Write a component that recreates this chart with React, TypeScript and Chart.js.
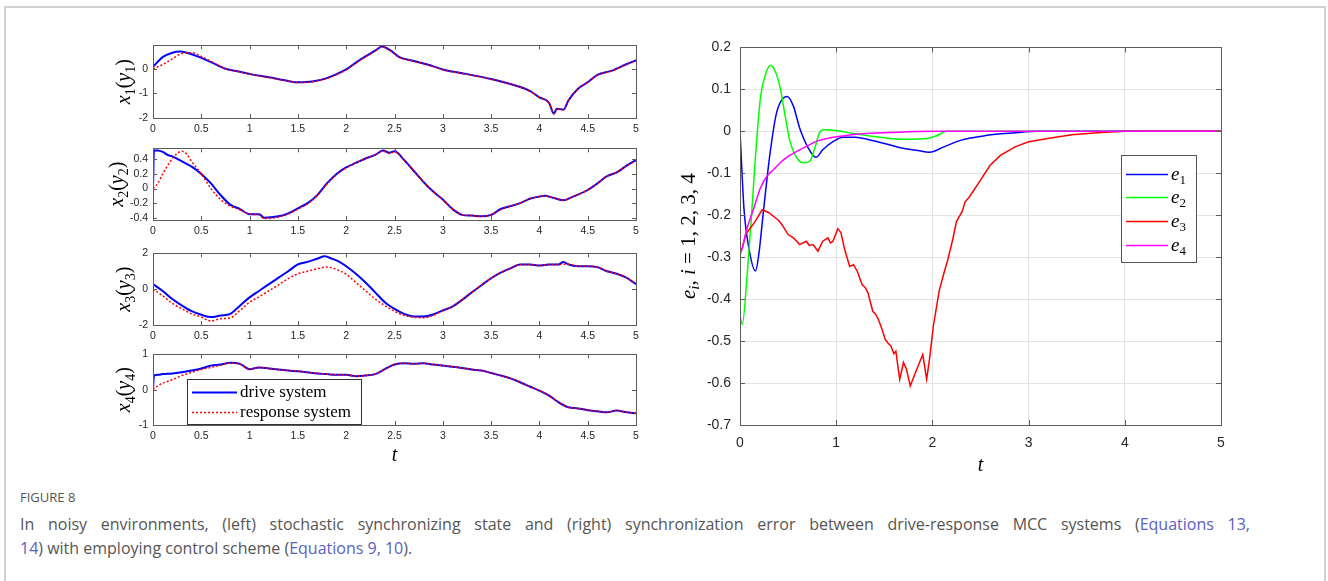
import React, { useEffect, useRef } from 'react';
import { Chart, registerables } from 'chart.js';
Chart.register(...registerables);

// ---------------- data ----------------
const T_TICKS_LEFT = [0, 0.5, 1, 1.5, 2, 2.5, 3, 3.5, 4, 4.5, 5];
const Y1_TICKS = [-2, -1, 0];
const Y2_TICKS = [-0.4, -0.2, 0, 0.2, 0.4];
const Y3_TICKS = [-2, 0, 2];
const Y4_TICKS = [-1, 0, 1];
const T_TICKS_RIGHT = [0, 1, 2, 3, 4, 5];
const E_TICKS = [-0.7, -0.6, -0.5, -0.4, -0.3, -0.2, -0.1, 0, 0.1, 0.2];

const LEFT_LEGEND = ['drive system', 'response system'];
const RIGHT_LEGEND_SUBS = ['1', '2', '3', '4'];

// x1 (drive) / y1 (response)
const X1_T = [0, 0.1, 0.2, 0.28, 0.35, 0.5, 0.6, 0.75, 0.9, 1.0, 1.2, 1.4, 1.5, 1.65, 1.8, 1.9, 2.0, 2.1, 2.2, 2.3, 2.37, 2.45, 2.55, 2.7, 2.85, 3.0, 3.25, 3.5, 3.75, 3.9, 4.0, 4.1, 4.15, 4.18, 4.25, 4.3, 4.4, 4.5, 4.6, 4.75, 4.9, 5.0];
const X1 = [0.08, 0.47, 0.65, 0.7, 0.65, 0.44, 0.27, 0.0, -0.12, -0.21, -0.35, -0.5, -0.55, -0.52, -0.38, -0.22, -0.03, 0.25, 0.5, 0.73, 0.9, 0.76, 0.47, 0.31, 0.16, -0.03, -0.22, -0.42, -0.68, -0.9, -1.16, -1.38, -1.83, -1.62, -1.66, -1.29, -0.81, -0.55, -0.25, -0.08, 0.18, 0.34];
const Y1_T = [0, 0.1, 0.2, 0.3, 0.4, 0.5, 0.6, 0.75, 0.9, 1.0, 1.2, 1.4, 1.5, 1.65, 1.8, 1.9, 2.0, 2.1, 2.2, 2.3, 2.37, 2.45, 2.55, 2.7, 2.85, 3.0, 3.25, 3.5, 3.75, 3.9, 4.0, 4.1, 4.15, 4.18, 4.25, 4.3, 4.4, 4.5, 4.6, 4.75, 4.9, 5.0];
const Y1 = [0.0, 0.17, 0.4, 0.62, 0.65, 0.5, 0.3, 0.0, -0.13, -0.22, -0.36, -0.5, -0.56, -0.53, -0.4, -0.24, -0.05, 0.23, 0.48, 0.71, 0.88, 0.75, 0.46, 0.3, 0.15, -0.04, -0.23, -0.43, -0.69, -0.91, -1.17, -1.39, -1.82, -1.63, -1.67, -1.3, -0.82, -0.56, -0.26, -0.09, 0.17, 0.33];

// x2 / y2
const X2_T = [0, 0.01, 0.05, 0.1, 0.15, 0.2, 0.3, 0.4, 0.5, 0.6, 0.7, 0.8, 0.9, 1.0, 1.1, 1.15, 1.3, 1.4, 1.5, 1.6, 1.7, 1.8, 1.9, 2.0, 2.1, 2.2, 2.3, 2.38, 2.45, 2.5, 2.6, 2.7, 2.8, 2.9, 3.0, 3.1, 3.2, 3.3, 3.4, 3.5, 3.6, 3.7, 3.8, 3.9, 4.0, 4.05, 4.15, 4.25, 4.35, 4.5, 4.6, 4.7, 4.8, 4.9, 5.0];
const X2 = [0, 0.52, 0.52, 0.5, 0.46, 0.44, 0.37, 0.3, 0.2, 0.07, -0.09, -0.22, -0.28, -0.35, -0.35, -0.4, -0.38, -0.34, -0.27, -0.2, -0.09, 0.07, 0.2, 0.29, 0.35, 0.41, 0.46, 0.52, 0.49, 0.51, 0.39, 0.24, 0.09, -0.04, -0.15, -0.28, -0.36, -0.37, -0.38, -0.36, -0.28, -0.24, -0.2, -0.14, -0.11, -0.1, -0.13, -0.16, -0.11, -0.02, 0.07, 0.17, 0.22, 0.31, 0.39];
const Y2_T = [0, 0.05, 0.1, 0.15, 0.2, 0.25, 0.3, 0.35, 0.4, 0.5, 0.6, 0.7, 0.8, 0.9, 1.0, 1.1, 1.15, 1.3, 1.4, 1.5, 1.6, 1.7, 1.8, 1.9, 2.0, 2.1, 2.2, 2.3, 2.38, 2.45, 2.5, 2.6, 2.7, 2.8, 2.9, 3.0, 3.1, 3.2, 3.3, 3.4, 3.5, 3.6, 3.7, 3.8, 3.9, 4.0, 4.05, 4.15, 4.25, 4.35, 4.5, 4.6, 4.7, 4.8, 4.9, 5.0];
const Y2 = [0, 0.07, 0.2, 0.31, 0.41, 0.48, 0.51, 0.47, 0.37, 0.2, 0.0, -0.15, -0.24, -0.29, -0.35, -0.36, -0.41, -0.39, -0.35, -0.28, -0.21, -0.1, 0.06, 0.19, 0.28, 0.35, 0.41, 0.46, 0.51, 0.48, 0.5, 0.39, 0.24, 0.09, -0.04, -0.15, -0.28, -0.36, -0.37, -0.38, -0.36, -0.29, -0.24, -0.2, -0.14, -0.11, -0.1, -0.13, -0.16, -0.11, -0.02, 0.07, 0.17, 0.22, 0.31, 0.38];

// x3 / y3
const X3_T = [0, 0.1, 0.2, 0.3, 0.4, 0.5, 0.6, 0.7, 0.8, 0.9, 1.0, 1.1, 1.2, 1.3, 1.4, 1.5, 1.6, 1.7, 1.78, 1.85, 1.9, 2.0, 2.1, 2.2, 2.3, 2.4, 2.5, 2.6, 2.7, 2.8, 2.9, 3.0, 3.1, 3.2, 3.3, 3.4, 3.5, 3.6, 3.7, 3.8, 3.9, 4.0, 4.1, 4.2, 4.25, 4.3, 4.4, 4.5, 4.6, 4.7, 4.8, 4.9, 5.0];
const X3 = [0.28, -0.1, -0.55, -0.92, -1.23, -1.43, -1.56, -1.47, -1.38, -0.92, -0.46, -0.09, 0.28, 0.64, 1.0, 1.38, 1.52, 1.7, 1.83, 1.7, 1.6, 1.28, 0.86, 0.37, -0.18, -0.73, -1.1, -1.38, -1.52, -1.52, -1.41, -1.19, -0.97, -0.6, -0.18, 0.22, 0.61, 0.92, 1.16, 1.38, 1.38, 1.32, 1.38, 1.38, 1.52, 1.38, 1.28, 1.28, 1.23, 1.0, 0.86, 0.64, 0.28];
const Y3_T = [0, 0.1, 0.2, 0.3, 0.4, 0.5, 0.6, 0.7, 0.8, 0.9, 1.0, 1.1, 1.2, 1.3, 1.4, 1.5, 1.6, 1.7, 1.8, 1.9, 2.0, 2.1, 2.2, 2.3, 2.4, 2.5, 2.6, 2.7, 2.8, 2.9, 3.0, 3.1, 3.2, 3.3, 3.4, 3.5, 3.6, 3.7, 3.8, 3.9, 4.0, 4.1, 4.2, 4.3, 4.4, 4.5, 4.6, 4.7, 4.8, 4.9, 5.0];
const Y3 = [0.0, -0.37, -0.79, -1.1, -1.38, -1.56, -1.78, -1.65, -1.6, -1.19, -0.73, -0.42, -0.09, 0.24, 0.59, 0.86, 1.0, 1.14, 1.23, 1.1, 0.83, 0.37, -0.09, -0.55, -0.92, -1.23, -1.47, -1.56, -1.6, -1.47, -1.2, -0.97, -0.6, -0.18, 0.22, 0.61, 0.92, 1.16, 1.38, 1.38, 1.32, 1.38, 1.38, 1.4, 1.28, 1.28, 1.23, 1.0, 0.86, 0.64, 0.28];

// x4 / y4
const X4_T = [0, 0.01, 0.05, 0.1, 0.2, 0.3, 0.4, 0.5, 0.6, 0.7, 0.8, 0.9, 1.0, 1.1, 1.2, 1.3, 1.4, 1.5, 1.6, 1.7, 1.8, 1.9, 2.0, 2.1, 2.2, 2.3, 2.4, 2.5, 2.6, 2.7, 2.8, 2.9, 3.0, 3.1, 3.2, 3.3, 3.4, 3.5, 3.6, 3.7, 3.8, 3.9, 4.0, 4.1, 4.2, 4.3, 4.4, 4.5, 4.6, 4.7, 4.8, 4.9, 5.0];
const X4 = [0.0, 0.4, 0.42, 0.44, 0.46, 0.49, 0.54, 0.6, 0.68, 0.71, 0.76, 0.73, 0.58, 0.63, 0.6, 0.57, 0.54, 0.52, 0.49, 0.46, 0.44, 0.42, 0.42, 0.38, 0.4, 0.44, 0.58, 0.71, 0.75, 0.73, 0.75, 0.71, 0.68, 0.65, 0.61, 0.57, 0.54, 0.47, 0.4, 0.32, 0.21, 0.09, -0.03, -0.17, -0.36, -0.5, -0.53, -0.58, -0.61, -0.64, -0.59, -0.64, -0.67];
const Y4_T = [0, 0.05, 0.1, 0.2, 0.3, 0.4, 0.5, 0.6, 0.7, 0.8, 0.9, 1.0, 1.1, 1.2, 1.3, 1.4, 1.5, 1.6, 1.7, 1.8, 1.9, 2.0, 2.1, 2.2, 2.3, 2.4, 2.5, 2.6, 2.7, 2.8, 2.9, 3.0, 3.1, 3.2, 3.3, 3.4, 3.5, 3.6, 3.7, 3.8, 3.9, 4.0, 4.1, 4.2, 4.3, 4.4, 4.5, 4.6, 4.7, 4.8, 4.9, 5.0];
const Y4 = [0.0, 0.11, 0.18, 0.28, 0.4, 0.49, 0.57, 0.63, 0.69, 0.75, 0.72, 0.58, 0.63, 0.6, 0.57, 0.54, 0.52, 0.49, 0.46, 0.44, 0.42, 0.42, 0.38, 0.4, 0.44, 0.58, 0.71, 0.75, 0.73, 0.75, 0.71, 0.68, 0.65, 0.61, 0.57, 0.54, 0.47, 0.4, 0.32, 0.21, 0.09, -0.03, -0.17, -0.36, -0.5, -0.53, -0.58, -0.61, -0.64, -0.59, -0.64, -0.67];

// synchronization errors e1..e4
const E1_T = [0, 0.041, 0.092, 0.161, 0.195, 0.247, 0.315, 0.38, 0.49, 0.555, 0.62, 0.71, 0.79, 0.86, 0.97, 1.07, 1.2, 1.34, 1.55, 1.68, 1.83, 1.97, 2.12, 2.3, 2.53, 2.71, 2.93, 3.08, 3.5, 5.0];
const E1 = [0, -0.183, -0.278, -0.333, -0.294, -0.183, -0.048, 0.044, 0.083, 0.06, 0.008, -0.04, -0.062, -0.044, -0.024, -0.014, -0.014, -0.02, -0.032, -0.04, -0.045, -0.05, -0.037, -0.021, -0.011, -0.006, -0.002, 0, 0, 0];
const E2_T = [0, 0.024, 0.075, 0.116, 0.16, 0.212, 0.264, 0.315, 0.366, 0.418, 0.47, 0.52, 0.59, 0.66, 0.73, 0.777, 0.83, 0.88, 1.0, 1.2, 1.45, 1.68, 1.9, 1.97, 2.05, 2.15, 2.5, 5.0];
const E2 = [-0.44, -0.46, -0.34, -0.214, -0.063, 0.079, 0.135, 0.157, 0.143, 0.103, 0.036, -0.024, -0.063, -0.075, -0.07, -0.04, -0.002, 0.004, 0.002, -0.006, -0.014, -0.019, -0.018, -0.016, -0.01, 0, 0, 0];
const E3_T = [0, 0.024, 0.058, 0.11, 0.16, 0.23, 0.3, 0.366, 0.4, 0.435, 0.5, 0.555, 0.59, 0.62, 0.69, 0.72, 0.76, 0.81, 0.86, 0.914, 0.94, 0.966, 1.017, 1.05, 1.086, 1.14, 1.18, 1.22, 1.27, 1.3, 1.33, 1.38, 1.41, 1.44, 1.476, 1.51, 1.54, 1.57, 1.6, 1.62, 1.66, 1.7, 1.73, 1.77, 1.81, 1.845, 1.9, 1.94, 1.97, 2.01, 2.07, 2.11, 2.16, 2.21, 2.25, 2.31, 2.34, 2.38, 2.42, 2.49, 2.6, 2.71, 2.86, 3.0, 3.23, 3.45, 3.75, 4.0, 5.0];
const E3 = [-0.286, -0.278, -0.246, -0.23, -0.214, -0.187, -0.194, -0.206, -0.212, -0.222, -0.246, -0.254, -0.262, -0.27, -0.262, -0.272, -0.27, -0.286, -0.262, -0.254, -0.266, -0.262, -0.232, -0.242, -0.28, -0.322, -0.318, -0.334, -0.366, -0.372, -0.385, -0.429, -0.436, -0.449, -0.472, -0.496, -0.505, -0.512, -0.53, -0.524, -0.591, -0.551, -0.567, -0.607, -0.583, -0.563, -0.532, -0.591, -0.543, -0.464, -0.381, -0.346, -0.306, -0.259, -0.215, -0.191, -0.168, -0.158, -0.144, -0.12, -0.081, -0.057, -0.037, -0.025, -0.016, -0.008, -0.003, 0, 0];
const E4_T = [0, 0.024, 0.075, 0.144, 0.212, 0.28, 0.35, 0.418, 0.5, 0.59, 0.69, 0.795, 0.93, 1.07, 1.27, 1.55, 2.0, 5.0];
const E4 = [-0.294, -0.278, -0.23, -0.183, -0.135, -0.107, -0.091, -0.075, -0.06, -0.048, -0.036, -0.024, -0.016, -0.011, -0.006, -0.003, 0, 0];

// ---------------- helpers ----------------
const SERIF = '"Liberation Serif", "DejaVu Serif", "Times New Roman", serif';
const SANS = '"Liberation Sans", Arial, Helvetica, sans-serif';
const BLUE = '#0000ff';
const RED = '#ff0000';
const GREEN = '#00ff00';
const MAGENTA = '#ff00ff';
const LINK = '#5a60c4';

type Seg = { t: string; it?: boolean; sub?: boolean };

const pts = (ts: number[], vs: number[]) => {
  const n = Math.min(ts.length, vs.length);
  const out: { x: number; y: number }[] = [];
  for (let i = 0; i < n; i++) out.push({ x: ts[i], y: vs[i] });
  return out;
};

const fmt = (v: number | string) => String(Math.round(Number(v) * 10) / 10);

function drawMath(ctx: CanvasRenderingContext2D, segs: Seg[], cx: number, cy: number, size: number, rot: number, color: string, align: 'center' | 'left') {
  ctx.save();
  ctx.translate(cx, cy);
  ctx.rotate(rot);
  const fontFor = (s: Seg) => `${s.it ? 'italic ' : ''}${s.sub ? Math.round(size * 0.7) : size}px ${SERIF}`;
  let w = 0;
  for (const s of segs) {
    ctx.font = fontFor(s);
    w += ctx.measureText(s.t).width;
  }
  let x = align === 'center' ? -w / 2 : 0;
  ctx.textBaseline = 'alphabetic';
  ctx.textAlign = 'left';
  ctx.fillStyle = color;
  const base = size * 0.32;
  for (const s of segs) {
    ctx.font = fontFor(s);
    ctx.fillText(s.t, x, base + (s.sub ? size * 0.22 : 0));
    x += ctx.measureText(s.t).width;
  }
  ctx.restore();
}

const boxPlugin = (tick: number, color: string) => ({
  id: 'matlabBox',
  afterDatasetsDraw(chart: any) {
    const { ctx, chartArea: a, scales } = chart;
    ctx.save();
    ctx.strokeStyle = color;
    ctx.lineWidth = 1;
    ctx.beginPath();
    for (const t of scales.x.ticks) {
      const p = Math.round(scales.x.getPixelForValue(t.value)) + 0.5;
      ctx.moveTo(p, a.bottom);
      ctx.lineTo(p, a.bottom - tick);
      ctx.moveTo(p, a.top);
      ctx.lineTo(p, a.top + tick);
    }
    for (const t of scales.y.ticks) {
      const p = Math.round(scales.y.getPixelForValue(t.value)) + 0.5;
      ctx.moveTo(a.left, p);
      ctx.lineTo(a.left + tick, p);
      ctx.moveTo(a.right, p);
      ctx.lineTo(a.right - tick, p);
    }
    ctx.stroke();
    ctx.strokeRect(Math.round(a.left) + 0.5, Math.round(a.top) + 0.5, Math.round(a.right - a.left), Math.round(a.bottom - a.top));
    ctx.restore();
  },
});

type MathItem = { segs: Seg[]; x: number | null; y: number | null; size: number; rot: number };
const mathPlugin = (items: MathItem[]) => ({
  id: 'mathText',
  afterDraw(chart: any) {
    const a = chart.chartArea;
    for (const it of items) {
      const x = it.x == null ? (a.left + a.right) / 2 : it.x;
      const y = it.y == null ? (a.top + a.bottom) / 2 : it.y;
      drawMath(chart.ctx, it.segs, x, y, it.size, it.rot, '#000', 'center');
    }
  },
});

type LegendCfg = { x: number; y: number; w: number; h: number; rows: number[]; lineX1: number; lineX2: number; textX: number; size: number; border: string; labels: Seg[][]; sampleWidth: number[] };
const legendPlugin = (o: LegendCfg) => ({
  id: 'boxLegend',
  afterDraw(chart: any) {
    const ctx = chart.ctx;
    ctx.save();
    ctx.fillStyle = '#fff';
    ctx.fillRect(o.x, o.y, o.w, o.h);
    ctx.strokeStyle = o.border;
    ctx.lineWidth = 1;
    ctx.strokeRect(o.x + 0.5, o.y + 0.5, o.w, o.h);
    chart.data.datasets.forEach((ds: any, i: number) => {
      const ry = o.rows[i];
      if (ry == null) return;
      ctx.strokeStyle = ds.borderColor;
      ctx.lineWidth = o.sampleWidth[i];
      ctx.setLineDash(ds.borderDash || []);
      ctx.beginPath();
      ctx.moveTo(o.lineX1, ry + 0.5);
      ctx.lineTo(o.lineX2, ry + 0.5);
      ctx.stroke();
      ctx.setLineDash([]);
      drawMath(ctx, o.labels[i], o.textX, ry, o.size, 0, '#000', 'left');
    });
    ctx.restore();
  },
});

function ticksFrom(arr: number[]) {
  return (s: any) => {
    s.ticks = arr.map((v) => ({ value: v }));
  };
}

function axisBase(tickArr: number[], fontSize: number, pad: number, extent: number, horizontal: boolean, grid: boolean) {
  return {
    type: 'linear',
    afterBuildTicks: ticksFrom(tickArr),
    afterFit: (s: any) => {
      if (horizontal) s.height = extent;
      else s.width = extent;
    },
    grid: grid
      ? { display: true, drawTicks: false, color: '#e4e4e4', lineWidth: 1 }
      : { display: false, drawTicks: false },
    border: { display: false },
    ticks: {
      padding: pad,
      autoSkip: false,
      maxRotation: 0,
      minRotation: 0,
      color: '#262626',
      font: { family: SANS, size: fontSize },
      callback: (v: any) => fmt(v),
    },
  };
}

function sub(v: string, n: string): Seg[] {
  return [{ t: v, it: true }, { t: n, sub: true }];
}

function leftConfig(p: {
  blue: { x: number; y: number }[];
  red: { x: number; y: number }[];
  ymin: number;
  ymax: number;
  yticks: number[];
  idx: string;
  labelX: number;
  xAxisH: number;
  xTitle: boolean;
  legend: boolean;
}) {
  const items: MathItem[] = [
    { segs: [...sub('x', p.idx), { t: '(' }, ...sub('y', p.idx), { t: ')' }], x: p.labelX, y: null, size: 20, rot: -Math.PI / 2 },
  ];
  if (p.xTitle) items.push({ segs: [{ t: 't', it: true }], x: null, y: 112, size: 20, rot: 0 });
  const plugins: any[] = [boxPlugin(4, '#5c5c5c'), mathPlugin(items)];
  if (p.legend) {
    plugins.push(
      legendPlugin({
        x: 87, y: 36, w: 174, h: 45,
        rows: [49, 69],
        lineX1: 92, lineX2: 137, textX: 140, size: 17, border: '#333',
        labels: LEFT_LEGEND.map((t) => [{ t }]),
        sampleWidth: [2, 1.5],
      })
    );
  }
  return {
    type: 'line',
    data: {
      datasets: [
        { label: LEFT_LEGEND[0], data: p.blue, borderColor: BLUE, borderWidth: 2, pointRadius: 0, cubicInterpolationMode: 'monotone', order: 2 },
        { label: LEFT_LEGEND[1], data: p.red, borderColor: RED, borderWidth: 1.5, borderDash: [2, 2], pointRadius: 0, cubicInterpolationMode: 'monotone', order: 1 },
      ],
    },
    options: {
      responsive: false,
      animation: false,
      events: [],
      layout: { padding: { top: 10, right: 24, left: 0, bottom: 0 } },
      plugins: { legend: { display: false }, tooltip: { enabled: false }, title: { display: false } },
      scales: {
        x: { ...axisBase(T_TICKS_LEFT, 10.5, 5, p.xAxisH, true, false), min: 0, max: 5 },
        y: { ...axisBase(p.yticks, 10.5, 5, 53, false, false), min: p.ymin, max: p.ymax },
      },
    },
    plugins,
  };
}

function rightConfig() {
  const items: MathItem[] = [
    {
      segs: [{ t: 'e', it: true }, { t: 'i', it: true, sub: true }, { t: ', ' }, { t: 'i', it: true }, { t: ' = ' }, { t: '1, 2, 3, 4' }],
      x: 18, y: null, size: 21, rot: -Math.PI / 2,
    },
    { segs: [{ t: 't', it: true }], x: null, y: 435, size: 20, rot: 0 },
  ];
  const legend = legendPlugin({
    x: 451, y: 125, w: 75, h: 107,
    rows: [144, 167, 191, 215],
    lineX1: 456, lineX2: 498, textX: 501, size: 19, border: '#555',
    labels: RIGHT_LEGEND_SUBS.map((n) => sub('e', n)),
    sampleWidth: [1.5, 1.5, 1.5, 1.5],
  });
  const mk = (label: string, d: any, c: string, order: number, smooth: boolean) => ({
    label, data: d, borderColor: c, borderWidth: 1.5, pointRadius: 0,
    cubicInterpolationMode: smooth ? 'monotone' : 'default', tension: 0, order,
  });
  return {
    type: 'line',
    data: {
      datasets: [
        mk('e1', pts(E1_T, E1), BLUE, 4, true),
        mk('e2', pts(E2_T, E2), GREEN, 3, true),
        mk('e3', pts(E3_T, E3), RED, 2, false),
        mk('e4', pts(E4_T, E4), MAGENTA, 1, true),
      ],
    },
    options: {
      responsive: false,
      animation: false,
      events: [],
      layout: { padding: { top: 16, right: 19, left: 0, bottom: 0 } },
      plugins: { legend: { display: false }, tooltip: { enabled: false }, title: { display: false } },
      scales: {
        x: { ...axisBase(T_TICKS_RIGHT, 14, 10, 60, true, true), min: 0, max: 5 },
        y: { ...axisBase(E_TICKS, 14, 9, 70, false, true), min: -0.7, max: 0.2 },
      },
    },
    plugins: [boxPlugin(5, '#5c5c5c'), mathPlugin(items), legend],
  };
}

function ChartCanvas({ left, top, width, height, make }: { left: number; top: number; width: number; height: number; make: () => any }) {
  const ref = useRef<HTMLCanvasElement>(null);
  useEffect(() => {
    const chart = new Chart(ref.current as HTMLCanvasElement, make());
    return () => chart.destroy();
  }, []);
  return <canvas ref={ref} width={width} height={height} style={{ position: 'absolute', left, top, width, height }} />;
}

export default function App() {
  return (
    <div style={{ position: 'fixed', left: 0, top: 0, width: 1328, height: 581, overflow: 'hidden', background: '#fff' }}>
      <div style={{ position: 'absolute', left: 4, top: 6, width: 1322, height: 640, border: '2px solid #d2d2d2', boxSizing: 'border-box' }} />
      <ChartCanvas left={100} top={34} width={560} height={106}
        make={() => leftConfig({ blue: pts(X1_T, X1), red: pts(Y1_T, Y1), ymin: -2, ymax: 0.95, yticks: Y1_TICKS, idx: '1', labelX: 24, xAxisH: 22, xTitle: false, legend: false })} />
      <ChartCanvas left={100} top={137} width={560} height={105}
        make={() => leftConfig({ blue: pts(X2_T, X2), red: pts(Y2_T, Y2), ymin: -0.43, ymax: 0.55, yticks: Y2_TICKS, idx: '2', labelX: 17, xAxisH: 22, xTitle: false, legend: false })} />
      <ChartCanvas left={100} top={242} width={560} height={105}
        make={() => leftConfig({ blue: pts(X3_T, X3), red: pts(Y3_T, Y3), ymin: -2, ymax: 2, yticks: Y3_TICKS, idx: '3', labelX: 24, xAxisH: 22, xTitle: false, legend: false })} />
      <ChartCanvas left={100} top={343} width={560} height={127}
        make={() => leftConfig({ blue: pts(X4_T, X4), red: pts(Y4_T, Y4), ymin: -1, ymax: 1, yticks: Y4_TICKS, idx: '4', labelX: 24, xAxisH: 45, xTitle: true, legend: true })} />
      <ChartCanvas left={670} top={30} width={570} height={455} make={rightConfig} />
      <div style={{ position: 'absolute', left: 20, top: 489, width: 1230, fontFamily: '"Open Sans", "Noto Sans", sans-serif', color: '#555' }}>
        <div style={{ fontSize: 13, lineHeight: '16px' }}>FIGURE 8</div>
        <div style={{ fontSize: 16, lineHeight: '24px', marginTop: 7, whiteSpace: 'nowrap', textAlign: 'justify', textAlignLast: 'justify' }}>
          In noisy environments, (left) stochastic synchronizing state and (right) synchronization error between drive-response MCC systems (<span style={{ color: LINK }}>Equations 13,</span>
        </div>
        <div style={{ fontSize: 16, lineHeight: '24px', whiteSpace: 'nowrap' }}>
          <span style={{ color: LINK }}>14</span>) with employing control scheme (<span style={{ color: LINK }}>Equations 9, 10</span>).
        </div>
      </div>
    </div>
  );
}
